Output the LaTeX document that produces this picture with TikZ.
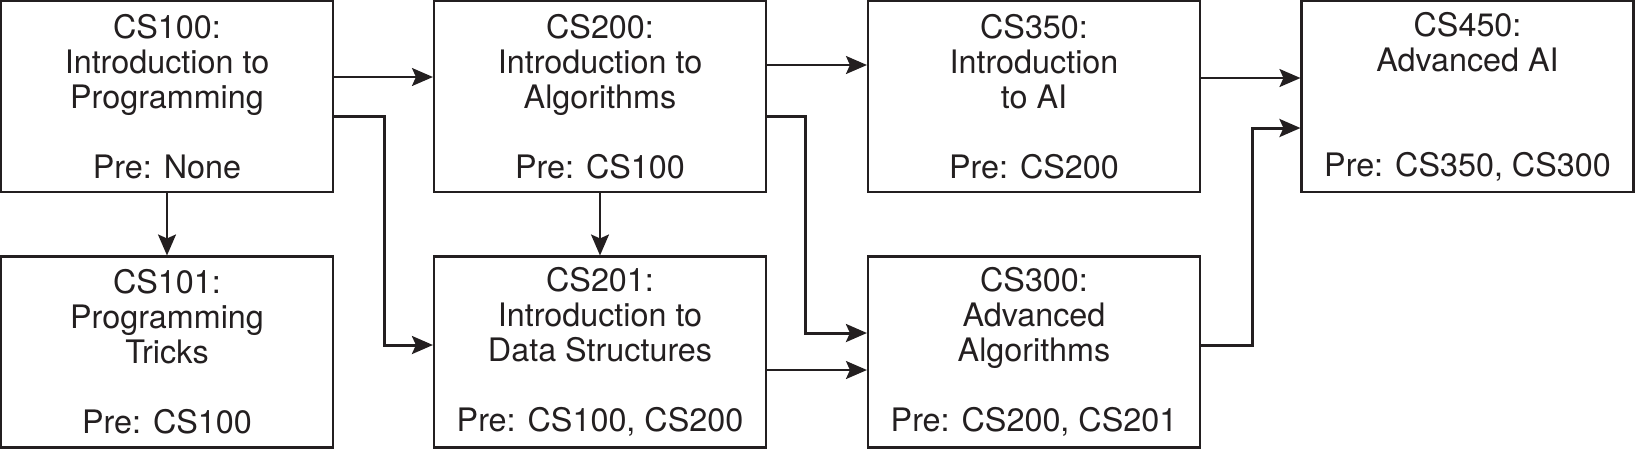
\documentclass[tikz,border=0pt]{standalone}
\usepackage{fontspec}
\setmainfont{TeX Gyre Heros}
\usepackage{tikz}
\usetikzlibrary{arrows.meta}
\definecolor{ink}{RGB}{35,31,32}

\begin{document}
\begin{tikzpicture}[
    course/.style={draw=ink, line width=0.6pt, minimum width=3.32cm, minimum height=1.91cm, inner sep=0pt, align=center, text=ink, font=\fontsize{9.2}{9.96}\selectfont},
    link/.style={draw=ink, line width=0.6pt, -{Stealth[length=0.21cm, width=0.18cm, inset=0.04cm]}},
    route/.style={link, line width=0.85pt}
]
    \useasboundingbox (0,0) rectangle (16.35,4.49);

    % --- Courses, top row ---
    \node[course] (cs100) at (1.67,3.525) {CS100:\\Introduction to\\Programming\\[9.96pt]Pre: None};
    \node[course] (cs200) at (6.00,3.525) {CS200:\\Introduction to\\Algorithms\\[9.96pt]Pre: CS100};
    \node[course] (cs350) at (10.34,3.525) {CS350:\\Introduction\\to AI\\[9.96pt]Pre: CS200};
    \node[course] (cs450) at (14.675,3.525) {CS450:\\Advanced AI\\[19.92pt]Pre: CS350, CS300};

    % --- Courses, bottom row ---
    \node[course] (cs101) at (1.67,0.97) {CS101:\\Programming\\Tricks\\[9.96pt]Pre: CS100};
    \node[course] (cs201) at (6.00,0.97) {CS201:\\Introduction to\\Data Structures\\[9.96pt]Pre: CS100, CS200};
    \node[course] (cs300) at (10.34,0.97) {CS300:\\Advanced\\Algorithms\\[9.96pt]Pre: CS200, CS201};

    % --- Prerequisites ---
    \foreach \a/\b in {cs100/cs101, cs200/cs201}
        \draw[link] (\a) -- (\b);
    \foreach \a/\b/\s in {cs100/cs200/0.195, cs200/cs350/0.315, cs350/cs450/0.185, cs201/cs300/-0.18}
        \draw[link] ([yshift=\s cm]\a.east) -- ([yshift=\s cm]\b.west);

    \draw[route] ([yshift=-0.195cm]cs100.east) -- ++(0.5,0) |- ([yshift=0.07cm]cs201.west);
    \draw[route] ([yshift=-0.195cm]cs200.east) -- ++(0.38,0) |- ([yshift=0.19cm]cs300.west);
    \draw[route] ([yshift=0.07cm]cs300.east) -- ++(0.51,0) |- ([yshift=-0.315cm]cs450.west);
\end{tikzpicture}
\end{document}
